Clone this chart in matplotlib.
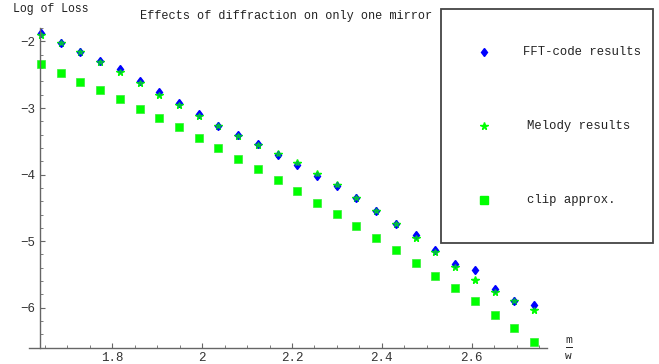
import numpy as np
import matplotlib
matplotlib.use('Agg')
import matplotlib.pyplot as plt
from matplotlib.patches import Rectangle
from matplotlib.lines import Line2D
from matplotlib.ticker import MultipleLocator

plt.rcParams['font.family'] = ['Liberation Mono', 'DejaVu Sans']

# m/w values
x = [1.641, 1.685, 1.729, 1.773, 1.817, 1.861, 1.904, 1.948, 1.992, 2.036,
     2.080, 2.124, 2.168, 2.212, 2.256, 2.300, 2.343, 2.387, 2.431, 2.475,
     2.519, 2.563, 2.607, 2.651, 2.695, 2.739]

# log of loss
fft_code = [-1.877, -2.018, -2.153, -2.288, -2.418, -2.594, -2.754, -2.920, -3.085, -3.265,
            -3.408, -3.540, -3.705, -3.855, -4.016, -4.171, -4.347, -4.542, -4.742, -4.912,
            -5.128, -5.343, -5.434, -5.714, -5.899, -5.960]
melody = [-1.898, -2.027, -2.163, -2.313, -2.463, -2.624, -2.800, -2.954, -3.114, -3.270,
          -3.415, -3.555, -3.690, -3.830, -3.995, -4.160, -4.352, -4.547, -4.747, -4.953,
          -5.168, -5.384, -5.579, -5.760, -5.900, -6.030]
clip_approx = [-2.338, -2.468, -2.604, -2.729, -2.869, -3.009, -3.149, -3.290, -3.450, -3.605,
               -3.760, -3.920, -4.086, -4.251, -4.420, -4.592, -4.772, -4.953, -5.138, -5.324,
               -5.519, -5.704, -5.904, -6.105, -6.305, -6.511]

blue = '#0000ff'
green = '#00ff00'
W, H = 659, 364

fig = plt.figure(figsize=(W / 100, H / 100), dpi=100)
ax = fig.add_axes([29 / W, 1 - 348.3 / H, (546.7 - 29) / W, (348.3 - 27.7) / H])

ax.plot(x, clip_approx, ls='none', marker='s', ms=5.2, color=green, mec='#33ee33', mew=0.5, clip_on=False)
ax.plot(x, melody, ls='none', marker='*', ms=5.5, color=green, mec=green, clip_on=False)
ax.plot(x, fft_code, ls='none', marker='d', ms=4.5, color=blue, mec=blue, clip_on=False)
# melody on top where they overlap
ax.plot(x, melody, ls='none', marker='*', ms=4.0, color=green, mec=green, alpha=0.6, clip_on=False)

ax.set_xlim(1.6146, 2.767)
ax.set_ylim(-6.61, -1.793)

for s in ['top', 'right']:
    ax.spines[s].set_visible(False)
ax.spines['left'].set_position(('data', 1.639))
for s in ['left', 'bottom']:
    ax.spines[s].set_color('#666666')
    ax.spines[s].set_linewidth(1.0)

ax.xaxis.set_major_locator(MultipleLocator(0.2))
ax.xaxis.set_minor_locator(MultipleLocator(0.05))
ax.yaxis.set_major_locator(MultipleLocator(1))
ax.yaxis.set_minor_locator(MultipleLocator(0.2))
ax.tick_params(which='major', direction='in', length=3.5, width=0.8, color='#666666',
               labelsize=9, labelcolor='#333333')
ax.tick_params(which='minor', direction='in', length=2, width=0.6, color='#666666')
ax.tick_params(axis='y', pad=3.5)
ax.tick_params(axis='x', pad=3)
ax.set_xticks([1.8, 2.0, 2.2, 2.4, 2.6])
ax.set_xticklabels(['1.8', '2', '2.2', '2.4', '2.6'])
ax.set_yticks([-2, -3, -4, -5, -6])
ax.set_yticklabels(['\u22122', '\u22123', '\u22124', '\u22125', '\u22126'])

# texts
fig.text(285.8 / W, 1 - 15.5 / H, 'Effects of diffraction on only one mirror',
         ha='center', va='center', fontsize=8.6, color='#222222')
fig.text(13 / W, 1 - 9 / H, 'Log of Loss', ha='left', va='center', fontsize=8.3, color='#222222')

# axis label m/w as a fraction
fig.text(568.7 / W, 1 - 340 / H, 'm', ha='center', va='center', fontsize=8, color='#222222')
fig.add_artist(Line2D([565.5 / W, 572 / W], [1 - 347.3 / H, 1 - 347.3 / H],
                      color='#222222', lw=0.7, transform=fig.transFigure))
fig.text(568.7 / W, 1 - 356 / H, 'w', ha='center', va='center', fontsize=8, color='#222222')

# legend box
fig.add_artist(Rectangle((441 / W, 1 - 243 / H), (653 - 441) / W, (243 - 9) / H,
                         transform=fig.transFigure, fill=False, edgecolor='#444444', lw=1.3))
leg = [('d', blue, 4.5, 'FFT-code results', 52.3, 523.3),
       ('*', green, 5.5, 'Melody results', 126, 526.7),
       ('s', green, 5.2, 'clip approx.', 200, 527.3)]
for m, c, ms, lab, yy, tx in leg:
    fig.add_artist(Line2D([484.3 / W], [1 - yy / H], marker=m, ms=ms, color=c, mec=c,
                          ls='none', transform=fig.transFigure))
    fig.text(tx / W, 1 - yy / H, lab, ha='left', va='center', fontsize=8.8, color='#222222')

fig.savefig('out.png', dpi=100)
